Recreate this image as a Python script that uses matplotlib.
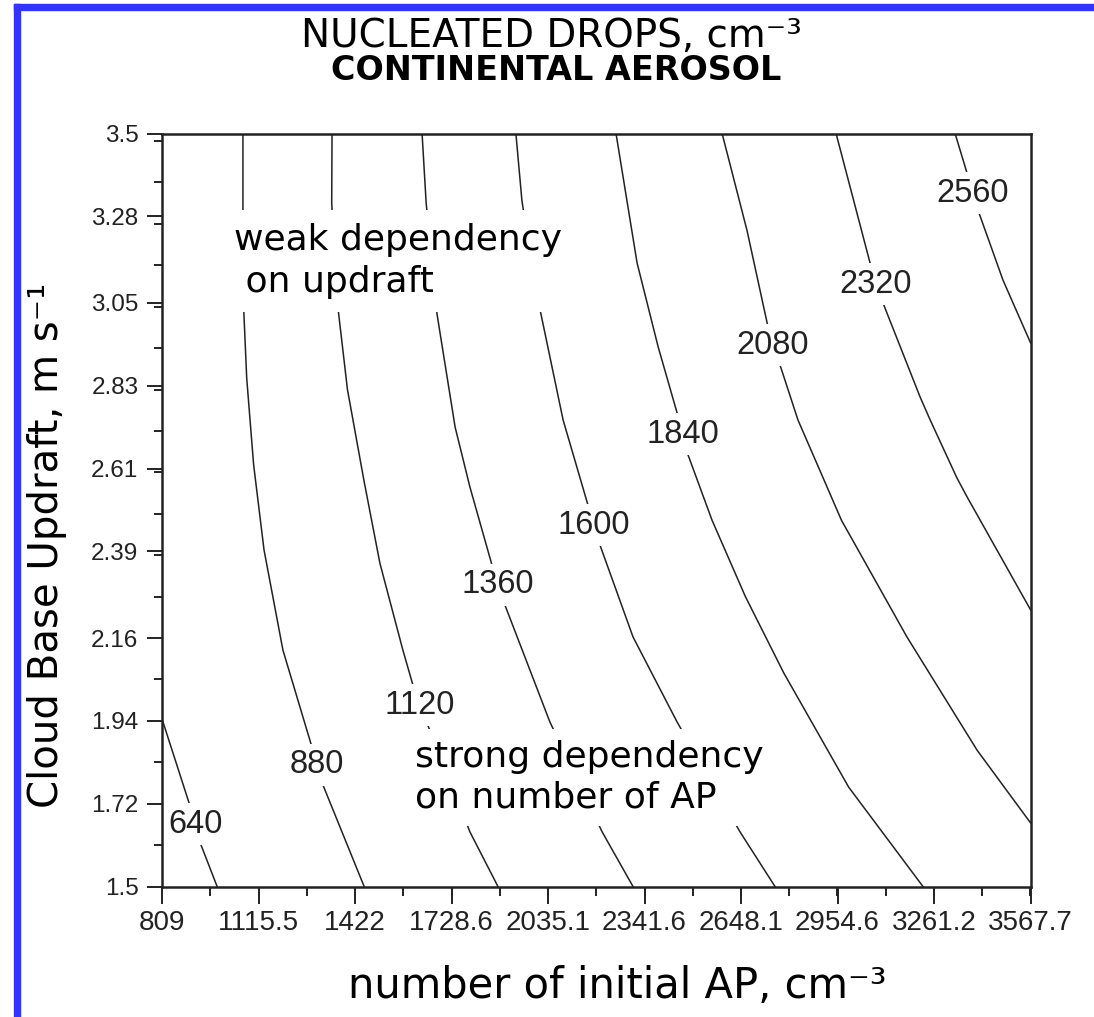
import matplotlib
matplotlib.use("Agg")
import matplotlib.pyplot as plt
from matplotlib.patches import Rectangle
from matplotlib.ticker import AutoMinorLocator

# x = number of initial AP (cm-3), y = cloud base updraft (m/s)
x_ticks = [809, 1115.5, 1422, 1728.6, 2035.1, 2341.6, 2648.1, 2954.6, 3261.2, 3567.7]
x_labels = ["809", "1115.5", "1422", "1728.6", "2035.1", "2341.6", "2648.1", "2954.6", "3261.2", "3567.7"]
y_ticks = [1.5, 1.72, 1.94, 2.16, 2.39, 2.61, 2.83, 3.05, 3.28, 3.5]
y_labels = ["1.5", "1.72", "1.94", "2.16", "2.39", "2.61", "2.83", "3.05", "3.28", "3.5"]

# contour lines of nucleated drops
ap_640 = [809, 898, 914, 933, 984]
w_640 = [1.945, 1.714, 1.665, 1.610, 1.5]

ap_880 = [1066, 1066, 1069, 1078, 1100, 1133, 1193, 1285, 1301, 1320, 1451]
w_880 = [3.5, 3.3, 3.023, 2.85, 2.62, 2.394, 2.128, 1.871, 1.823, 1.770, 1.5]

ap_1120 = [1349, 1348, 1366, 1398, 1450, 1501, 1574, 1606, 1628, 1787, 1876]
w_1120 = [3.5, 3.315, 3.05, 2.82, 2.58, 2.359, 2.128, 2.035, 1.982, 1.645, 1.5]

ap_1360 = [1635, 1648, 1682, 1740, 1787, 1857, 1876, 1898, 2041, 2207, 2305]
w_1360 = [3.5, 3.315, 3.023, 2.72, 2.561, 2.354, 2.301, 2.248, 1.937, 1.645, 1.5]

ap_1600 = [1933, 1952, 1990, 2083, 2162, 2181, 2200, 2305, 2445, 2645, 2756]
w_1600 = [3.5, 3.323, 3.111, 2.739, 2.513, 2.460, 2.407, 2.163, 1.937, 1.645, 1.5]

ap_1840 = [2251, 2318, 2385, 2445, 2464, 2480, 2556, 2662, 2784, 2990, 3226]
w_1840 = [3.5, 3.156, 2.933, 2.758, 2.701, 2.646, 2.473, 2.27, 2.067, 1.764, 1.5]

ap_2080 = [2588, 2667, 2731, 2750, 2772, 2829, 2909, 2967, 3175, 3398, 3567.7]
w_2080 = [3.5, 3.243, 2.997, 2.938, 2.885, 2.739, 2.585, 2.473, 2.163, 1.862, 1.669]

ap_2320 = [2950, 3058, 3077, 3099, 3217, 3249, 3334, 3366, 3567.7]
w_2320 = [3.5, 3.156, 3.100, 3.050, 2.800, 2.739, 2.585, 2.535, 2.235]

ap_2560 = [3328, 3366, 3385, 3404, 3480, 3567.7]
w_2560 = [3.5, 3.395, 3.342, 3.289, 3.111, 2.944]

levels = [640, 880, 1120, 1360, 1600, 1840, 2080, 2320, 2560]
label_ap = [914, 1301, 1628, 1876, 2181, 2464, 2750, 3077, 3385]
label_w = [1.665, 1.823, 1.982, 2.301, 2.460, 2.701, 2.938, 3.100, 3.342]

lines = [(ap_640, w_640), (ap_880, w_880), (ap_1120, w_1120), (ap_1360, w_1360),
         (ap_1600, w_1600), (ap_1840, w_1840), (ap_2080, w_2080),
         (ap_2320, w_2320), (ap_2560, w_2560)]

plt.rcParams["font.family"] = ["DejaVu Sans"]

fig = plt.figure(figsize=(10.94, 10.17), dpi=100)
ax = fig.add_axes([0.1481, 0.1283, 0.7939, 0.7404])

for xs, ys in lines:
    ax.plot(xs, ys, color="#222222", lw=1.1, zorder=2)

# labels sit under the spines so the white boxes don't cut the frame
for lev, lx, ly in zip(levels, label_ap, label_w):
    ax.text(lx, ly, str(lev), ha="center", va="center", fontsize=23.5,
            family="Liberation Sans", color="#222222", zorder=2.2,
            bbox=dict(facecolor="white", edgecolor="none", pad=4))

ax.text(1038, 3.262, "weak dependency\n on updraft", ha="left", va="top",
        fontsize=26, color="black", zorder=2.3, linespacing=1.3,
        bbox=dict(facecolor="white", edgecolor="none", pad=9))
ax.text(1613, 1.889, "strong dependency\non number of AP", ha="left", va="top",
        fontsize=26, color="black", zorder=2.3, linespacing=1.25,
        bbox=dict(facecolor="white", edgecolor="none", pad=8))

ax.set_xlim(809, 3567.7)
ax.set_ylim(1.5, 3.5)
ax.set_xticks(x_ticks)
ax.set_xticklabels(x_labels)
ax.set_yticks(y_ticks)
ax.set_yticklabels(y_labels)
ax.xaxis.set_minor_locator(AutoMinorLocator(2))
ax.yaxis.set_minor_locator(AutoMinorLocator(2))
ax.tick_params(axis="x", which="major", length=12, width=1.4, color="#222222")
ax.tick_params(axis="x", which="minor", length=6.5, width=1.4, color="#222222")
ax.tick_params(axis="y", which="major", length=11, width=1.4, color="#222222")
ax.tick_params(axis="y", which="minor", length=6, width=1.4, color="#222222")
ax.tick_params(axis="x", pad=5, labelsize=20, labelcolor="#222222")
ax.tick_params(axis="y", pad=6, labelsize=17.5, labelcolor="#222222")
for lab in ax.get_xticklabels() + ax.get_yticklabels():
    lab.set_fontfamily("Liberation Sans")
for sp in ax.spines.values():
    sp.set_linewidth(1.8)
    sp.set_color("#222222")

fig.text(0.504, 0.9538, "NUCLEATED DROPS, cm\u207b\u00b3", ha="center", va="baseline", fontsize=28)
fig.text(0.508, 0.9213, "CONTINENTAL AEROSOL", ha="center", va="baseline", fontsize=24, fontweight="bold")
fig.text(0.564, 0.0187, "number of initial AP, cm\u207b\u00b3", ha="center", va="baseline", fontsize=30)
fig.text(0.043, 0.464, "Cloud Base Updraft, m s\u207b\u00b9", ha="center", va="center",
         rotation=90, fontsize=29)

# blue frame (top and left)
blue = "#3333ff"
fig.patches.append(Rectangle((14 / 1094, 0), 6 / 1094, 1 - 4 / 1017,
                             transform=fig.transFigure, color=blue, zorder=10))
fig.patches.append(Rectangle((14 / 1094, 1 - 10 / 1017), 1 - 14 / 1094, 6 / 1017,
                             transform=fig.transFigure, color=blue, zorder=10))

fig.savefig("out.png", dpi=100)
